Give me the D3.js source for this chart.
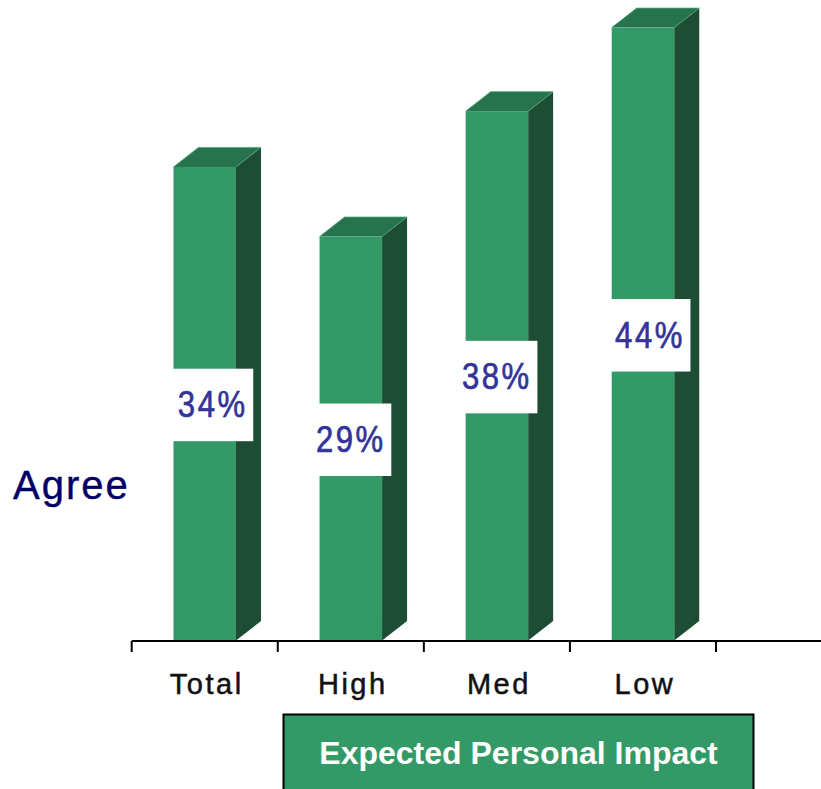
<!DOCTYPE html>
<html>
<head>
<meta charset="utf-8">
<script src="https://cdn.jsdelivr.net/npm/d3@7"></script>
<style>
  html, body { margin: 0; padding: 0; background: #ffffff; }
  svg { display: block; }
</style>
</head>
<body>
<div id="chart"></div>
<script>
// ---- data ----
const categories = ["Total", "High", "Med", "Low"];
const agreeValues = [34, 29, 38, 44];
const valueLabels = ["34%", "29%", "38%", "44%"];
const yAxisTitle = "Agree";
const groupTitle = "Expected Personal Impact";

// ---- layout ----
const W = 821, H = 789;
const labelShift = [8, 0, 0, 7];
const frontColor = "#339966", topColor = "#26734d", sideColor = "#1d4d35";
const depthX = 25, depthY = 19.5;

const svg = d3.select("#chart").append("svg")
  .attr("width", W).attr("height", H);

const x = d3.scaleBand().domain(categories).range([131.7, 716]).padding(0);
const y = d3.scaleLinear().domain([0, 46]).range([640.5, 640.5 - 13.93 * 46]);

const barW = x.bandwidth() * 0.428;

const bars = svg.append("g").selectAll("g.bar")
  .data(categories.map((c, i) => ({ c, v: agreeValues[i], label: valueLabels[i], shift: labelShift[i] })))
  .join("g").attr("class", "bar");

bars.each(function(d) {
  const g = d3.select(this);
  const cx = x(d.c) + x.bandwidth() / 2;
  const x0 = cx - barW / 2, x1 = cx + barW / 2;
  const yt = y(d.v), yb = y(0);
  // side face
  g.append("polygon")
    .attr("points", [[x1, yt], [x1 + depthX, yt - depthY], [x1 + depthX, yb - depthY], [x1, yb]].map(p => p.join(",")).join(" "))
    .attr("fill", sideColor);
  // top face
  g.append("polygon")
    .attr("points", [[x0, yt], [x0 + depthX, yt - depthY], [x1 + depthX, yt - depthY], [x1, yt]].map(p => p.join(",")).join(" "))
    .attr("fill", topColor);
  // top edge highlights
  g.append("polyline")
    .attr("points", [[x0, yt], [x0 + depthX, yt - depthY], [x1 + depthX, yt - depthY]].map(p => p.join(",")).join(" "))
    .attr("fill", "none").attr("stroke", "#4fa87c").attr("stroke-width", 0.8);
  g.append("line")
    .attr("x1", x1).attr("y1", yt).attr("x2", x1 + depthX).attr("y2", yt - depthY)
    .attr("stroke", "#4fa87c").attr("stroke-width", 0.8);
  // front face
  g.append("rect")
    .attr("x", x0).attr("y", yt).attr("width", barW).attr("height", yb - yt)
    .attr("fill", frontColor);
  // value label box
  const my = (yt + yb) / 2 + 1;
  const lcx = cx + d.shift;
  g.append("rect")
    .attr("x", lcx - 40.5).attr("y", my - 36).attr("width", 81).attr("height", 72.5)
    .attr("fill", "#ffffff");
  g.append("text")
    .attr("transform", `translate(${lcx},${my + 12.5}) scale(0.84,1)`)
    .attr("x", 0).attr("y", 0)
    .attr("text-anchor", "middle")
    .attr("font-family", "Liberation Sans, Arial, sans-serif")
    .attr("font-size", 37)
    .attr("letter-spacing", 3)
    .attr("fill", "#333399")
    .attr("stroke", "#333399").attr("stroke-width", 0.7)
    .text(d.label);
});

// ---- x axis ----
const axisY = 641;
const axis = svg.append("g");
axis.append("line")
  .attr("x1", x.range()[0]).attr("x2", W).attr("y1", axisY).attr("y2", axisY)
  .attr("stroke", "#000").attr("stroke-width", 2);
const tickPos = categories.map(c => x(c)).concat([x.range()[1]]);
axis.selectAll("line.tick").data(tickPos).join("line")
  .attr("class", "tick")
  .attr("x1", d => d).attr("x2", d => d)
  .attr("y1", axisY).attr("y2", axisY + 11)
  .attr("stroke", "#000").attr("stroke-width", 2);
axis.selectAll("text.cat").data(categories).join("text")
  .attr("class", "cat")
  .attr("x", d => x(d) + x.bandwidth() / 2 + 2)
  .attr("y", 694)
  .attr("text-anchor", "middle")
  .attr("font-family", "Liberation Sans, Arial, sans-serif")
  .attr("font-size", 29)
  .attr("letter-spacing", 2.5)
  .attr("fill", "#111")
  .attr("stroke", "#111").attr("stroke-width", 0.5)
  .text(d => d);

// ---- y title ----
svg.append("text")
  .attr("x", 13).attr("y", 499)
  .attr("font-family", "Liberation Sans, Arial, sans-serif")
  .attr("font-size", 40)
  .attr("letter-spacing", 2)
  .attr("fill", "#000066")
  .attr("stroke", "#000066").attr("stroke-width", 0.4)
  .text(yAxisTitle);

// ---- group title box ----
svg.append("rect")
  .attr("x", 283.5).attr("y", 714.5).attr("width", 470).attr("height", 90)
  .attr("fill", frontColor).attr("stroke", "#000").attr("stroke-width", 2);
svg.append("text")
  .attr("x", 518.5).attr("y", 764)
  .attr("text-anchor", "middle")
  .attr("font-family", "Liberation Sans, Arial, sans-serif")
  .attr("font-weight", "bold")
  .attr("font-size", 32)
  .attr("fill", "#ffffff")
  .text(groupTitle);
</script>
</body>
</html>
